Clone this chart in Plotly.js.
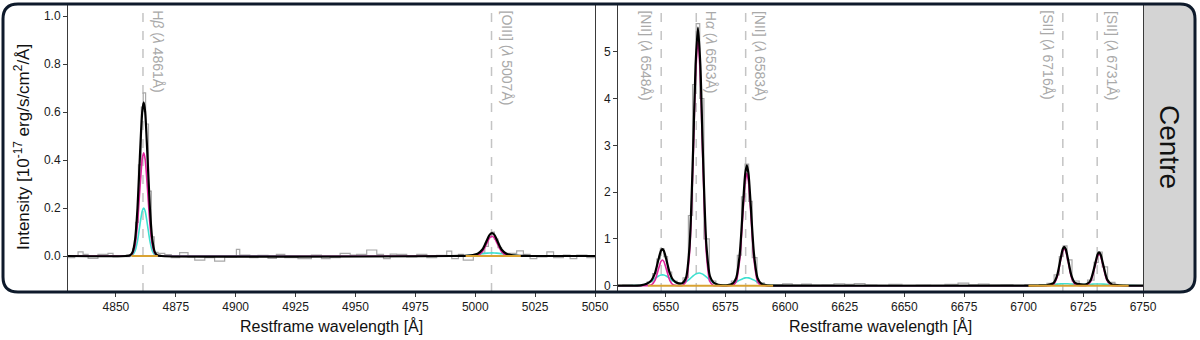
<!DOCTYPE html>
<html>
<head>
<meta charset="utf-8">
<script src="https://cdn.plot.ly/plotly-3.0.1.min.js"></script>
<style>
  html, body { margin: 0; padding: 0; background: #fff; }
  #plotArea { width: 1200px; height: 340px; }
</style>
</head>
<body>
<div id="plotArea"></div>
<script>
// values (flux in 1e-17 erg/s/cm2/A)

// --- left panel: Hbeta + [OIII] ---
var leftObsWave = [4830, 4832.8, 4834.2, 4836.3, 4838.4, 4842.5, 4846.7, 4848.8, 4850.9, 4855.7,
  4857, 4858.2, 4859.4, 4860.6, 4861.4, 4862.4, 4863.6, 4864.8, 4866, 4867.6,
  4870.4, 4873.1, 4876.6, 4880.1, 4882.9, 4887.1, 4891.2, 4895.4, 4900.3, 4901.7,
  4905.9, 4909.3, 4913.5, 4917, 4920.5, 4926, 4931.6, 4935.8, 4939.4, 4943.6,
  4947.8, 4950.5, 4954.7, 4958.9, 4961.7, 4964.5, 4967.2, 4971.4, 4975.6, 4979.8,
  4983.9, 4988.1, 4990.2, 4993, 4995, 4999.2, 5002, 5004, 5005.5, 5006.8,
  5008, 5009.5, 5011, 5013.2, 5017.3, 5020.1, 5022.9, 5025.7, 5029.9, 5032.7,
  5036.8, 5039.6, 5042.4, 5046.6, 5050];
var leftObsFlux = [-0.007, 0.0, 0.017, 0.007, -0.01, 0.007, 0.011, -0.004, -0.003, 0.004,
  0.03, 0.14, 0.38, 0.62, 0.68, 0.55, 0.27, 0.08, 0.015, 0.011,
  0.006, -0.007, 0.014, -0.004, -0.017, -0.007, -0.021, -0.004, 0.028, 0.004,
  -0.007, 0.003, -0.01, 0.007, -0.007, -0.011, 0.004, -0.011, -0.007, 0.011,
  0.004, 0.007, 0.025, 0.007, -0.011, 0.008, 0.007, -0.004, 0.007, -0.007,
  0.003, 0.02, -0.011, 0.007, -0.017, 0.003, 0.012, 0.04, 0.08, 0.1,
  0.07, 0.035, 0.012, 0.011, 0.021, 0.007, -0.011, -0.004, 0.017, -0.007,
  0.004, -0.011, 0.004, -0.007, -0.007];

var leftModelWave = [4830, 4854, 4856, 4857, 4858, 4859, 4860, 4861, 4861.6, 4862.2,
  4863.2, 4864.2, 4865.2, 4866.2, 4867.2, 4869,
  4990, 4994, 4997, 4999, 5001, 5003, 5004, 5005, 5006, 5007,
  5008, 5009, 5010, 5011, 5013, 5015, 5017, 5020, 5024, 5050];
var leftTotal = [0, 0, 0.003, 0.017, 0.068, 0.198, 0.411, 0.602, 0.64, 0.602,
  0.411, 0.198, 0.068, 0.017, 0.003, 0,
  0, 0.0004, 0.0018, 0.0038, 0.009, 0.027, 0.046, 0.068, 0.088, 0.095,
  0.088, 0.068, 0.046, 0.027, 0.009, 0.0038, 0.0018, 0.0004, 0, 0];
var leftNarrow = [0, 0, 0.002, 0.011, 0.046, 0.133, 0.276, 0.404, 0.43, 0.404,
  0.276, 0.133, 0.046, 0.011, 0.002, 0,
  0, 0, 0, 0.0002, 0.0027, 0.018, 0.035, 0.056, 0.075, 0.082,
  0.075, 0.056, 0.035, 0.018, 0.0027, 0.0002, 0, 0, 0, 0];
var leftBroad = [0, 0, 0.001, 0.005, 0.021, 0.062, 0.128, 0.188, 0.2, 0.188,
  0.128, 0.062, 0.021, 0.005, 0.001, 0,
  0, 0.0004, 0.0018, 0.0036, 0.0063, 0.0094, 0.0109, 0.012, 0.0127, 0.013,
  0.0127, 0.012, 0.0109, 0.0094, 0.0063, 0.0036, 0.0018, 0.0004, 0, 0];
var leftContWave = [4856.5, 4867.5, null, 4996, 5019];
var leftContFlux = [0, 0, null, 0, 0];

// --- right panel: [NII] + Halpha + [SII] ---
var rightObsWave = [6530, 6534, 6538, 6541, 6543.5, 6545.5, 6547, 6548.5, 6550, 6551.5,
  6553.5, 6556, 6558.5, 6560.5, 6562, 6563.5, 6565, 6567, 6569.5, 6572.5,
  6576, 6579, 6581, 6582.5, 6584, 6585.5, 6587, 6589.5, 6593, 6597,
  6601, 6605, 6609, 6613, 6618, 6623, 6627, 6631, 6636, 6641,
  6646, 6652, 6658, 6664, 6670, 6675, 6679, 6683, 6688, 6693,
  6698, 6703, 6708, 6711.5, 6714, 6715.8, 6717.3, 6719, 6721.5, 6725,
  6728.5, 6730.5, 6732, 6733.8, 6736.5, 6740, 6745, 6750];
var rightObsFlux = [0.0, 0.01, 0.0, 0.02, 0.08, 0.26, 0.57, 0.79, 0.62, 0.29,
  0.1, 0.05, 0.17, 1.5, 4.3, 5.6, 4.0, 1.0, 0.1, 0.02,
  0.01, 0.1, 0.65, 1.9, 2.6, 1.8, 0.6, 0.06, 0.01, 0.02,
  0.04, 0.015, 0.035, 0.01, 0.02, 0.04, 0.03, 0.045, 0.02, 0.01,
  0.03, 0.015, 0.02, 0.01, 0.03, 0.055, 0.02, 0.035, 0.01, 0.02,
  0.0, 0.02, 0.01, 0.05, 0.23, 0.62, 0.85, 0.55, 0.1, 0.03,
  0.12, 0.5, 0.72, 0.4, 0.07, 0.01, 0.0, 0.0];

var rightModelWave = [6530, 6537, 6540, 6542, 6544, 6545.5, 6547, 6548, 6548.6, 6549.2,
  6550.2, 6551.7, 6553, 6555, 6557, 6558.5, 6560, 6561.5, 6562.5, 6563.5,
  6564.5, 6565.5, 6567, 6568.5, 6570, 6572, 6574, 6576, 6578, 6579.5,
  6581, 6582.5, 6583.3, 6584, 6584.7, 6585.5, 6587, 6588.5, 6590, 6592,
  6595, 6600, 6700, 6706, 6710, 6712.5, 6714, 6715.5, 6716.4, 6717,
  6717.6, 6718.5, 6720, 6721.5, 6724, 6726.5, 6728, 6729.8, 6731, 6731.6,
  6732.2, 6733.4, 6735, 6737, 6740, 6745, 6750];
var rightTotal = [0, 0.001, 0.011, 0.04, 0.114, 0.269, 0.569, 0.746, 0.78, 0.746,
  0.569, 0.27, 0.129, 0.054, 0.055, 0.172, 0.851, 2.944, 4.703, 5.517,
  4.724, 2.981, 0.897, 0.207, 0.067, 0.02, 0.0075, 0.013, 0.046, 0.162,
  0.67, 1.818, 2.382, 2.57, 2.382, 1.818, 0.67, 0.162, 0.046, 0.012,
  0.001, 0, 0, 0.004, 0.015, 0.056, 0.215, 0.585, 0.785, 0.83,
  0.785, 0.587, 0.217, 0.06, 0.026, 0.037, 0.112, 0.433, 0.672, 0.711,
  0.672, 0.432, 0.13, 0.026, 0.009, 0.002, 0];
var rightNarrow = [0, 0, 0, 0.0004, 0.0174, 0.114, 0.362, 0.519, 0.55, 0.519,
  0.362, 0.114, 0.023, 0.0007, 0.0053, 0.089, 0.71, 2.735, 4.457, 5.25,
  4.457, 2.735, 0.71, 0.089, 0.005, 0, 0, 0, 0.0067, 0.088,
  0.552, 1.663, 2.215, 2.4, 2.215, 1.663, 0.552, 0.088, 0.0067, 0,
  0, 0, 0, 0, 0, 0.029, 0.182, 0.547, 0.745, 0.79,
  0.745, 0.547, 0.182, 0.029, 0, 0.0096, 0.081, 0.398, 0.636, 0.675,
  0.636, 0.398, 0.102, 0.006, 0, 0, 0];
var rightBroad = [0, 0.001, 0.011, 0.039, 0.097, 0.155, 0.207, 0.227, 0.23, 0.227,
  0.207, 0.156, 0.106, 0.053, 0.05, 0.083, 0.141, 0.209, 0.246, 0.267,
  0.267, 0.246, 0.187, 0.118, 0.062, 0.02, 0.0075, 0.013, 0.039, 0.074,
  0.118, 0.155, 0.167, 0.17, 0.167, 0.155, 0.118, 0.074, 0.039, 0.012,
  0.001, 0, 0, 0.004, 0.015, 0.027, 0.033, 0.038, 0.04, 0.04,
  0.04, 0.04, 0.035, 0.031, 0.026, 0.027, 0.031, 0.035, 0.036, 0.036,
  0.036, 0.034, 0.028, 0.02, 0.009, 0.002, 0];
var rightContWave = [6542.5, 6595, null, 6702, 6744];
var rightContFlux = [0, 0, null, 0, 0];

// emission line markers
var leftLines = [4861.3, 5006.8];
var leftLabels = ['H<i>β</i> (<i>λ</i> 4861Å)', '[OIII] (<i>λ</i> 5007Å)'];
var leftLabelSide = ['right', 'right'];
var rightLines = [6548.1, 6562.8, 6583.5, 6716.4, 6730.8];
var rightLabels = ['[NII] (<i>λ</i> 6548Å)', 'H<i>α</i> (<i>λ</i> 6563Å)', '[NII] (<i>λ</i> 6583Å)',
  '[SII] (<i>λ</i> 6716Å)', '[SII] (<i>λ</i> 6731Å)'];
var rightLabelSide = ['left', 'right', 'right', 'left', 'right'];

// ticks
var leftXTicks = [4850, 4875, 4900, 4925, 4950, 4975, 5000, 5025, 5050];
var rightXTicks = [6550, 6575, 6600, 6625, 6650, 6675, 6700, 6725, 6750];
var leftYTicks = [0, 0.2, 0.4, 0.6, 0.8, 1.0];
var leftYLabels = ['0.0', '0.2', '0.4', '0.6', '0.8', '1.0'];
var rightYTicks = [0, 1, 2, 3, 4, 5];

// ---- drawing ----
var W = 1200, H = 340;
function px(x) { return x / W; }
function py(y) { return 1 - y / H; }

var FONT = 'Liberation Sans, Arial, sans-serif';
var GREY = '#a8a8a8', CYAN = '#3ee0d0', MAGENTA = '#e0249c', ORANGE = '#d9a232';

function panel(xa, ya, obsW, obsF, obsShape, modW, tot, nar, brd, contW, contF) {
  var ax = {xaxis: xa, yaxis: ya, showlegend: false, hoverinfo: 'skip'};
  return [
    Object.assign({x: obsW, y: obsF, mode: 'lines', line: {color: GREY, width: 1.2, shape: obsShape}}, ax),
    Object.assign({x: modW, y: brd, mode: 'lines', line: {color: CYAN, width: 1.6, shape: 'spline', smoothing: 0.7}}, ax),
    Object.assign({x: modW, y: nar, mode: 'lines', line: {color: MAGENTA, width: 1.6, shape: 'spline', smoothing: 0.7}}, ax),
    Object.assign({x: modW, y: tot, mode: 'lines', line: {color: '#000', width: 2.2, shape: 'spline', smoothing: 0.7}}, ax),
    Object.assign({x: contW, y: contF, mode: 'lines', line: {color: ORANGE, width: 2}}, ax)
  ];
}

var data = panel('x', 'y', leftObsWave, leftObsFlux, 'hv', leftModelWave, leftTotal, leftNarrow, leftBroad, leftContWave, leftContFlux)
  .concat(panel('x2', 'y2', rightObsWave, rightObsFlux, 'hvh', rightModelWave, rightTotal, rightNarrow, rightBroad, rightContWave, rightContFlux));

var axisStyle = {
  showline: true, mirror: true, linecolor: '#3a3a3a', linewidth: 1,
  ticks: 'outside', ticklen: 4, tickcolor: '#3a3a3a', tickwidth: 1,
  showgrid: false, zeroline: false, fixedrange: true,
  tickfont: {family: FONT, size: 12, color: '#1a1a1a'}
};

var shapes = [];
var annotations = [];

function addLines(lines, labels, sides, xref, yref) {
  lines.forEach(function (w, i) {
    shapes.push({type: 'line', xref: xref, yref: yref + ' domain', x0: w, x1: w, y0: 0, y1: 1,
      layer: 'below', line: {color: '#c4c4c4', width: 1.5, dash: 'dash'}});
    var right = sides[i] === 'right';
    annotations.push({xref: xref, yref: yref + ' domain', x: w, y: 0.984, text: labels[i],
      showarrow: false, textangle: 90, xanchor: right ? 'left' : 'right', yanchor: 'top',
      xshift: right ? 5 : -5, font: {family: FONT, size: 14, color: '#a9a9a9'}});
  });
}
addLines(leftLines, leftLabels, leftLabelSide, 'x', 'y');
addLines(rightLines, rightLabels, rightLabelSide, 'x2', 'y2');

// "Centre" strip with rounded right corners, and the rounded frame
var r = 15;
function roundedPath(x0, y0, x1, y1, roundLeft) {
  var p = 'M ' + px(roundLeft ? x0 + r : x0) + ' ' + py(y0) +
    ' L ' + px(x1 - r) + ' ' + py(y0) +
    ' Q ' + px(x1) + ' ' + py(y0) + ' ' + px(x1) + ' ' + py(y0 + r) +
    ' L ' + px(x1) + ' ' + py(y1 - r) +
    ' Q ' + px(x1) + ' ' + py(y1) + ' ' + px(x1 - r) + ' ' + py(y1);
  if (roundLeft) {
    p += ' L ' + px(x0 + r) + ' ' + py(y1) +
      ' Q ' + px(x0) + ' ' + py(y1) + ' ' + px(x0) + ' ' + py(y1 - r) +
      ' L ' + px(x0) + ' ' + py(y0 + r) +
      ' Q ' + px(x0) + ' ' + py(y0) + ' ' + px(x0 + r) + ' ' + py(y0);
  } else {
    p += ' L ' + px(x0) + ' ' + py(y1) + ' Z';
  }
  return p;
}
shapes.push({type: 'path', xref: 'paper', yref: 'paper', path: roundedPath(1143, 4, 1195, 292, false),
  fillcolor: '#d4d4d4', line: {width: 0}, layer: 'below'});
shapes.push({type: 'path', xref: 'paper', yref: 'paper', path: roundedPath(3, 4, 1195, 292, true),
  line: {color: '#0e1a2b', width: 3}, layer: 'above'});

annotations.push({xref: 'paper', yref: 'paper', x: px(1170), y: py(147), xanchor: 'center', yanchor: 'middle',
  text: 'Centre', showarrow: false, textangle: 90, font: {family: FONT, size: 28, color: '#111'}});
annotations.push({xref: 'paper', yref: 'paper', x: px(22), y: py(147), xanchor: 'center', yanchor: 'middle',
  text: 'Intensity [10<sup>-17</sup> erg/s/cm<sup>2</sup>/Å]', showarrow: false, textangle: -90,
  font: {family: FONT, size: 17, color: '#111'}});
annotations.push({xref: 'paper', yref: 'paper', x: px((68 + 595) / 2), y: py(326), xanchor: 'center', yanchor: 'middle',
  text: 'Restframe wavelength [Å]', showarrow: false, font: {family: FONT, size: 16, color: '#111'}});
annotations.push({xref: 'paper', yref: 'paper', x: px((618 + 1143) / 2), y: py(326), xanchor: 'center', yanchor: 'middle',
  text: 'Restframe wavelength [Å]', showarrow: false, font: {family: FONT, size: 16, color: '#111'}});

var layout = {
  width: W, height: H,
  margin: {l: 0, r: 0, t: 0, b: 0},
  paper_bgcolor: '#fff', plot_bgcolor: '#fff',
  showlegend: false,
  xaxis: Object.assign({}, axisStyle, {domain: [px(68), px(595)], range: [4830, 5050], anchor: 'y',
    tickmode: 'array', tickvals: leftXTicks}),
  yaxis: Object.assign({}, axisStyle, {domain: [py(292), py(4)], range: [-0.15, 1.05], anchor: 'x',
    tickmode: 'array', tickvals: leftYTicks, ticktext: leftYLabels}),
  xaxis2: Object.assign({}, axisStyle, {domain: [px(618), px(1143)], range: [6530, 6750], anchor: 'y2',
    tickmode: 'array', tickvals: rightXTicks}),
  yaxis2: Object.assign({}, axisStyle, {domain: [py(292), py(4)], range: [-0.135, 6.02], anchor: 'x2',
    tickmode: 'array', tickvals: rightYTicks}),
  shapes: shapes,
  annotations: annotations
};

Plotly.newPlot('plotArea', data, layout, {displayModeBar: false, staticPlot: true});
</script>
</body>
</html>
